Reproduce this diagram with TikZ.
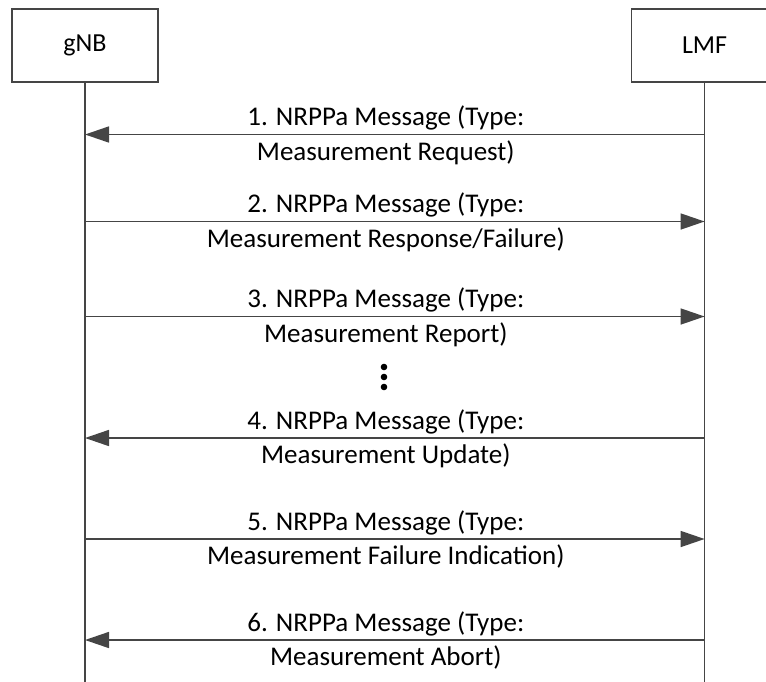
\documentclass[tikz,border=0pt]{standalone}
\usepackage{fontspec}
\setmainfont{Carlito}
\usetikzlibrary{arrows.meta,positioning}
\definecolor{linegray}{HTML}{454545}

\begin{document}
\begin{tikzpicture}[x=1pt,y=-1pt,line width=1.6pt,
  entity/.style={draw=linegray,minimum width=146pt,minimum height=73pt,
    font=\fontsize{26}{30}\selectfont},
  toplabel/.style={midway,anchor=base,inner sep=0pt,yshift=9pt,xshift=-9pt,
    font=\fontsize{27}{31}\selectfont},
  botlabel/.style={midway,anchor=base,inner sep=0pt,yshift=-25.5pt,xshift=-9pt,
    font=\fontsize{27}{31}\selectfont},
  msgline/.style={draw=linegray,-{Triangle[length=24pt,width=16pt]}}]
  \useasboundingbox (0,0) rectangle (766,681);

  \node[entity] (gnb) at (85,45.5) {gNB};
  \node[entity,right=472pt of gnb] (lmf) {LMF};

  % lifelines
  \coordinate (gnbend) at (gnb |- 0,690);
  \coordinate (lmfend) at (lmf |- 0,690);
  \draw[linegray] (gnb) -- (gnbend);
  \draw[linegray] (lmf) -- (lmfend);

  \foreach \n/\y in {1/134.5,2/221.5,3/316.5,4/438,5/539,6/640}{
    \coordinate (g\n) at (gnb |- 0,\y);
    \coordinate (l\n) at (lmf |- 0,\y);
  }

  \draw[msgline] (l1) -- node[toplabel]{1. NRPPa Message (Type:}
    node[botlabel]{Measurement Request)} (g1);
  \draw[msgline] (g2) -- node[toplabel]{2. NRPPa Message (Type:}
    node[botlabel]{Measurement Response/Failure)} (l2);
  \draw[msgline] (g3) -- node[toplabel]{3. NRPPa Message (Type:}
    node[botlabel]{Measurement Report)} (l3);
  \draw[msgline] (l4) -- node[toplabel]{4. NRPPa Message (Type:}
    node[botlabel]{Measurement Update)} (g4);
  \draw[msgline] (g5) -- node[toplabel]{5. NRPPa Message (Type:}
    node[botlabel]{Measurement Failure Indication)} (l5);
  \draw[msgline] (l6) -- node[toplabel]{6. NRPPa Message (Type:}
    node[botlabel]{Measurement Abort)} (g6);

  % vertical ellipsis
  \foreach \y in {367,377,387}
    \fill (384,\y) circle (3.3pt);
\end{tikzpicture}
\end{document}
